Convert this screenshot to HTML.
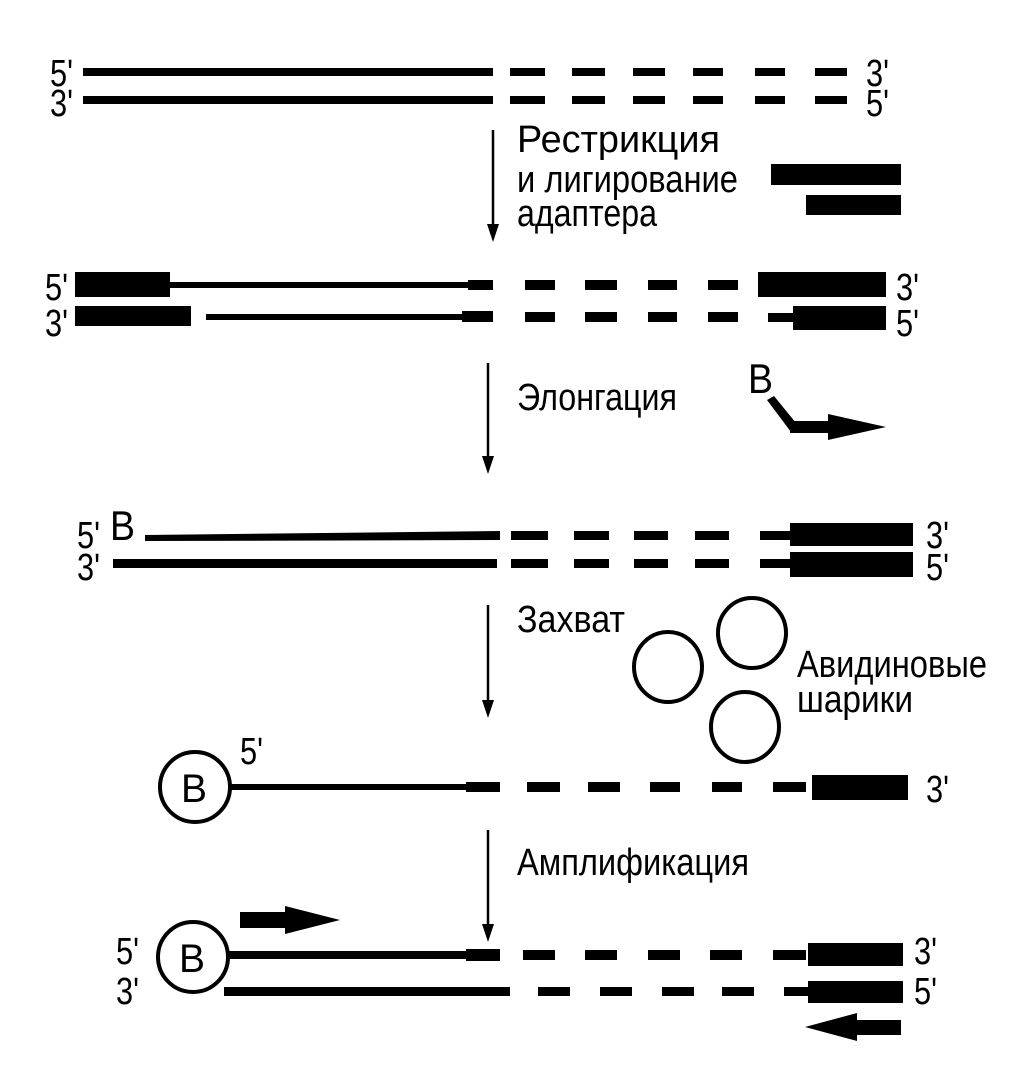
<!DOCTYPE html>
<html><head><meta charset="utf-8"><style>
html,body{margin:0;padding:0;background:#fff;}
svg{display:block}
text{font-family:"Liberation Sans Narrow","Liberation Sans",sans-serif;fill:#000;}
</style></head><body>
<svg width="1013" height="1069" viewBox="0 0 1013 1069" xmlns="http://www.w3.org/2000/svg">
<g fill="#000">
<rect x="83" y="68" width="410" height="8"/>
<rect x="83" y="96" width="410" height="8"/>
<rect x="510" y="68" width="35" height="8"/><rect x="572" y="68" width="33" height="8"/><rect x="633" y="68" width="32" height="8"/><rect x="693" y="68" width="30" height="8"/><rect x="755" y="68" width="30" height="8"/><rect x="815" y="68" width="32" height="8"/>
<rect x="510" y="96" width="35" height="8"/><rect x="572" y="96" width="33" height="8"/><rect x="633" y="96" width="32" height="8"/><rect x="693" y="96" width="30" height="8"/><rect x="755" y="96" width="30" height="8"/><rect x="815" y="96" width="32" height="8"/>
<rect x="771" y="164" width="130" height="21"/>
<rect x="806" y="195" width="95" height="20"/>
<rect x="75" y="272" width="95" height="25"/>
<rect x="169" y="282" width="300" height="6"/><rect x="468" y="280" width="25" height="10"/>
<rect x="525" y="280" width="30" height="10"/><rect x="585" y="280" width="32" height="10"/><rect x="648" y="280" width="29" height="10"/><rect x="708" y="280" width="30" height="10"/>
<rect x="758" y="272" width="128" height="25"/>
<rect x="75" y="306" width="116" height="20"/>
<rect x="206" y="314" width="264" height="6"/><rect x="462" y="311" width="31" height="11"/>
<rect x="525" y="312" width="30" height="10"/><rect x="585" y="312" width="32" height="10"/><rect x="648" y="312" width="29" height="10"/><rect x="708" y="312" width="30" height="10"/><rect x="768" y="313" width="26" height="9"/>
<rect x="793" y="306" width="93" height="24"/>
<polygon points="767,400 774,396 796,423 796,429 791,432"/>
<rect x="790" y="421" width="40" height="12"/>
<polygon points="828,414 886,427 828,440"/>
<polygon points="145,535 500,531 500,540 145,541"/>
<rect x="511" y="531" width="37" height="9"/><rect x="574" y="531" width="35" height="9"/><rect x="634" y="531" width="34" height="9"/><rect x="695" y="531" width="34" height="9"/><rect x="760" y="531" width="32" height="9"/>
<rect x="790" y="523" width="123" height="23"/>
<rect x="113" y="559" width="384" height="9"/>
<rect x="511" y="559" width="37" height="9"/><rect x="574" y="559" width="35" height="9"/><rect x="634" y="559" width="34" height="9"/><rect x="695" y="559" width="34" height="9"/><rect x="760" y="559" width="32" height="9"/>
<rect x="790" y="552" width="123" height="25"/>
<rect x="231" y="784" width="240" height="6"/><rect x="466" y="782" width="34" height="10"/>
<rect x="527" y="782" width="33" height="10"/><rect x="588" y="782" width="32" height="10"/><rect x="650" y="782" width="30" height="10"/><rect x="712" y="782" width="30" height="10"/><rect x="773" y="782" width="33" height="10"/>
<rect x="812" y="775" width="96" height="25"/>
<rect x="229" y="951" width="240" height="8"/><rect x="466" y="949" width="34" height="12"/>
<rect x="523" y="950" width="32" height="10"/><rect x="585" y="950" width="32" height="10"/><rect x="648" y="950" width="32" height="10"/><rect x="710" y="950" width="32" height="10"/><rect x="773" y="950" width="33" height="10"/>
<rect x="808" y="943" width="95" height="23"/>
<rect x="224" y="987" width="286" height="9"/>
<rect x="538" y="987" width="32" height="9"/><rect x="600" y="987" width="32" height="9"/><rect x="662" y="987" width="32" height="9"/><rect x="722" y="987" width="32" height="9"/><rect x="784" y="987" width="26" height="9"/>
<rect x="808" y="981" width="95" height="22"/>
<rect x="240" y="912" width="47" height="16"/><polygon points="285,906 340,920 285,934"/>
<rect x="855" y="1020" width="46" height="15"/><polygon points="857,1013 805,1027 857,1041"/>
</g>
<g stroke="#000" stroke-width="2.5">
<line x1="493" y1="130" x2="493" y2="228"/>
<line x1="488" y1="363" x2="488" y2="460"/>
<line x1="488" y1="605" x2="488" y2="705"/>
<line x1="488" y1="830" x2="488" y2="928"/>
</g>
<g fill="#000">
<polygon points="487,224 499,224 493,242"/>
<polygon points="482,456 494,456 488,474"/>
<polygon points="482,700 494,700 488,718"/>
<polygon points="482,924 494,924 488,942"/>
</g>
<g fill="none" stroke="#000" stroke-width="4">
<ellipse cx="668" cy="667" rx="34" ry="35"/>
<ellipse cx="752" cy="633" rx="34" ry="35"/>
<ellipse cx="745" cy="727" rx="34" ry="35"/>
<circle cx="195" cy="787" r="35"/>
<circle cx="193" cy="957" r="35"/>
</g>
<g font-size="38" lengthAdjust="spacingAndGlyphs">
<text x="50" y="86" textLength="23" lengthAdjust="spacingAndGlyphs">5'</text><text x="50" y="116" textLength="23" lengthAdjust="spacingAndGlyphs">3'</text>
<text x="866" y="86" textLength="23" lengthAdjust="spacingAndGlyphs">3'</text><text x="866" y="116" textLength="23" lengthAdjust="spacingAndGlyphs">5'</text>
<text x="45" y="300" textLength="23" lengthAdjust="spacingAndGlyphs">5'</text><text x="45" y="336" textLength="23" lengthAdjust="spacingAndGlyphs">3'</text>
<text x="896" y="300" textLength="23" lengthAdjust="spacingAndGlyphs">3'</text><text x="896" y="336" textLength="23" lengthAdjust="spacingAndGlyphs">5'</text>
<text x="517" y="152" textLength="203" lengthAdjust="spacingAndGlyphs">Рестрикция</text>
<text x="517" y="192" textLength="221" lengthAdjust="spacingAndGlyphs">и лигирование</text>
<text x="517" y="226" textLength="140" lengthAdjust="spacingAndGlyphs">адаптера</text>
<text x="517" y="410" textLength="160" lengthAdjust="spacingAndGlyphs">Элонгация</text>
<text x="748" y="393" font-size="42" textLength="25" lengthAdjust="spacingAndGlyphs">B</text>
<text x="77" y="548" textLength="23" lengthAdjust="spacingAndGlyphs">5'</text><text x="77" y="580" textLength="23" lengthAdjust="spacingAndGlyphs">3'</text>
<text x="110" y="540" font-size="42" textLength="25" lengthAdjust="spacingAndGlyphs">B</text>
<text x="926" y="548" textLength="23" lengthAdjust="spacingAndGlyphs">3'</text><text x="926" y="580" textLength="23" lengthAdjust="spacingAndGlyphs">5'</text>
<text x="517" y="632" textLength="108" lengthAdjust="spacingAndGlyphs">Захват</text>
<text x="797" y="677" textLength="190" lengthAdjust="spacingAndGlyphs">Авидиновые</text>
<text x="797" y="712" textLength="116" lengthAdjust="spacingAndGlyphs">шарики</text>
<text x="181" y="802" font-size="40" textLength="26" lengthAdjust="spacingAndGlyphs">B</text>
<text x="240" y="764" textLength="23" lengthAdjust="spacingAndGlyphs">5'</text>
<text x="926" y="802" textLength="23" lengthAdjust="spacingAndGlyphs">3'</text>
<text x="517" y="875" textLength="232" lengthAdjust="spacingAndGlyphs">Амплификация</text>
<text x="179" y="972" font-size="40" textLength="26" lengthAdjust="spacingAndGlyphs">B</text>
<text x="116" y="964" textLength="23" lengthAdjust="spacingAndGlyphs">5'</text><text x="116" y="1004" textLength="23" lengthAdjust="spacingAndGlyphs">3'</text>
<text x="914" y="964" textLength="23" lengthAdjust="spacingAndGlyphs">3'</text><text x="914" y="1004" textLength="23" lengthAdjust="spacingAndGlyphs">5'</text>
</g>
</svg>
</body></html>
